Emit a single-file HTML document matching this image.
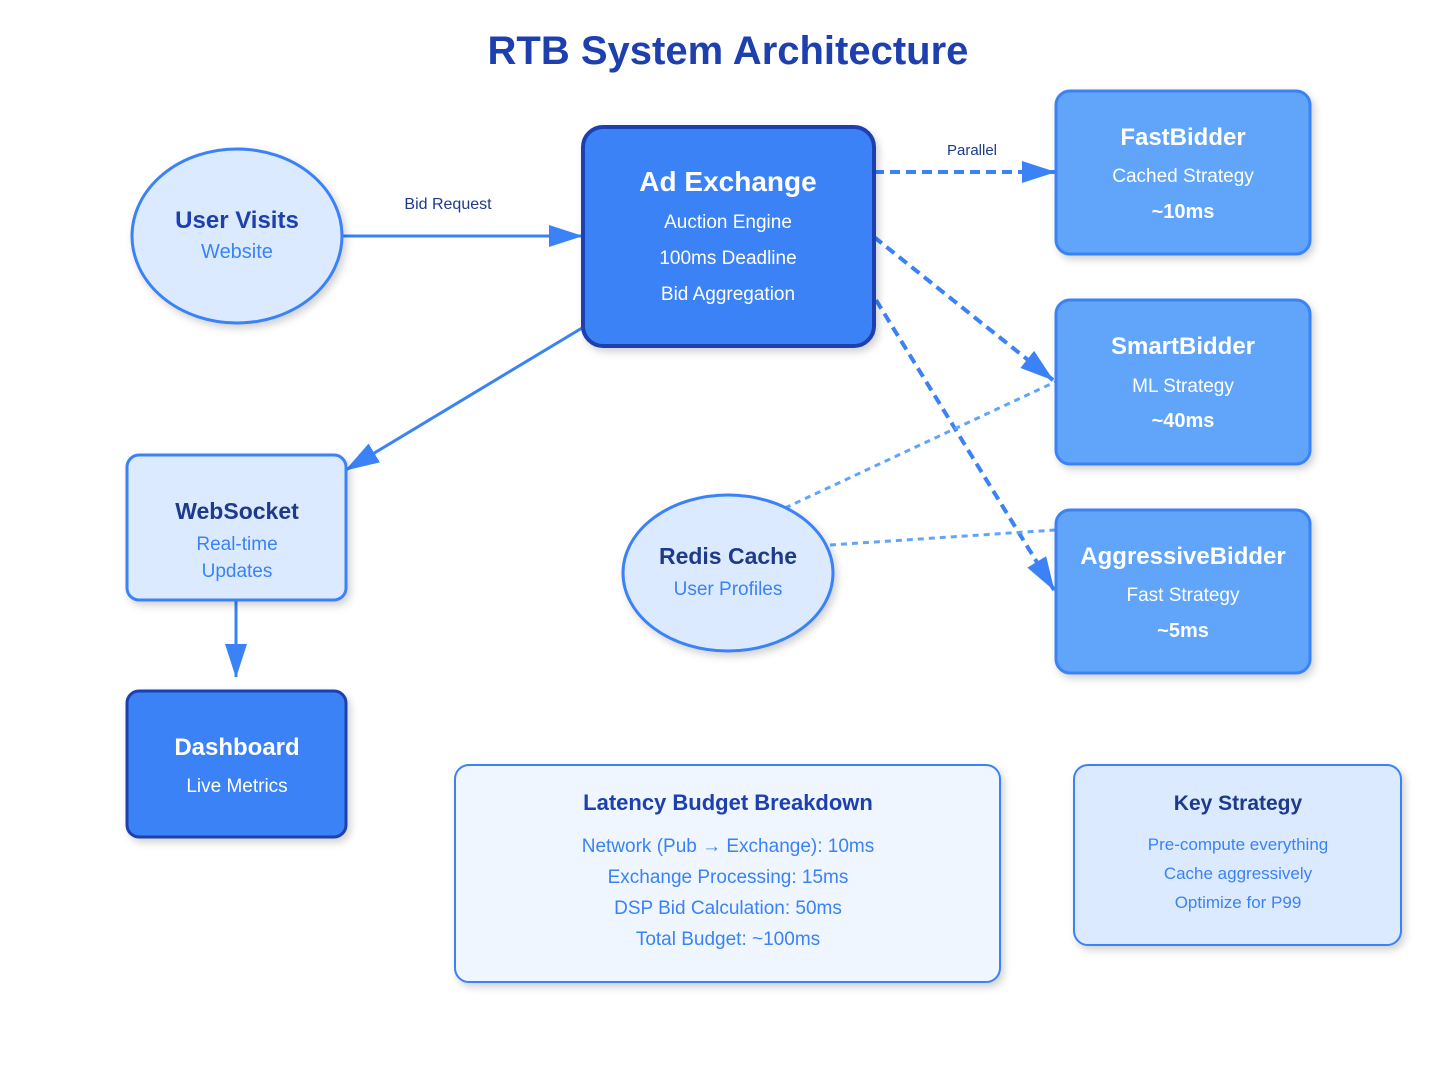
<!DOCTYPE html>
<html><head><meta charset="utf-8"><style>
html,body{margin:0;padding:0;background:#fff;}
svg{display:block;font-family:"Liberation Sans",sans-serif;}
</style></head><body>
<svg width="1456" height="1092" viewBox="0 0 1456 1092" xmlns="http://www.w3.org/2000/svg">
<defs>
<filter id="sh" x="-20%" y="-20%" width="140%" height="140%"><feDropShadow dx="3" dy="4" stdDeviation="4" flood-color="#000" flood-opacity="0.18"/></filter>
<marker id="ah" markerWidth="10" markerHeight="10" refX="9" refY="5" orient="auto" markerUnits="userSpaceOnUse" viewBox="0 0 10 10"><path d="M0,0 L10,5 L0,10 z" fill="#3b82f6"/></marker>
<marker id="big" markerWidth="34" markerHeight="22" refX="33" refY="11" orient="auto" markerUnits="userSpaceOnUse"><path d="M0,0 L34,11 L0,22 z" fill="#3b82f6"/></marker>
</defs>
<text x="728" y="64" text-anchor="middle" font-size="40" font-weight="bold" fill="#1e40af">RTB System Architecture</text>

<!-- connectors -->
<line x1="340" y1="236" x2="582" y2="236" stroke="#3b82f6" stroke-width="3" marker-end="url(#big)"/>
<text x="448" y="209" text-anchor="middle" font-size="16" fill="#1e3a8a">Bid Request</text>
<line x1="874" y1="172" x2="1055" y2="172" stroke="#3b82f6" stroke-width="4" stroke-dasharray="10,6" marker-end="url(#big)"/>
<text x="972" y="155" text-anchor="middle" font-size="15" fill="#1e3a8a">Parallel</text>
<line x1="874" y1="237" x2="1053" y2="380" stroke="#3b82f6" stroke-width="4" stroke-dasharray="10,6" marker-end="url(#big)"/>
<line x1="876" y1="300" x2="1054" y2="590" stroke="#3b82f6" stroke-width="4" stroke-dasharray="10,6" marker-end="url(#big)"/>
<line x1="582" y1="328" x2="346" y2="470" stroke="#3b82f6" stroke-width="3" marker-end="url(#big)"/>
<line x1="236" y1="600" x2="236" y2="677" stroke="#3b82f6" stroke-width="3" marker-end="url(#big)"/>
<line x1="785" y1="508" x2="1055" y2="382" stroke="#60a5fa" stroke-width="3" stroke-dasharray="6,5"/>
<line x1="830" y1="545" x2="1055" y2="530" stroke="#60a5fa" stroke-width="3" stroke-dasharray="6,5"/>

<!-- User visits -->
<ellipse cx="237" cy="236" rx="105" ry="87" fill="#dbeafe" stroke="#3b82f6" stroke-width="3" filter="url(#sh)"/>
<text x="237" y="228" text-anchor="middle" font-size="24" font-weight="bold" fill="#1e40af">User Visits</text>
<text x="237" y="258" text-anchor="middle" font-size="20" fill="#3b82f6">Website</text>

<!-- Ad Exchange -->
<rect x="583" y="127" width="291" height="219" rx="20" fill="#3b82f6" stroke="#1e40af" stroke-width="4" filter="url(#sh)"/>
<text x="728" y="191" text-anchor="middle" font-size="28" font-weight="bold" fill="#fff">Ad Exchange</text>
<text x="728" y="228" text-anchor="middle" font-size="19" fill="#fff">Auction Engine</text>
<text x="728" y="264" text-anchor="middle" font-size="19" fill="#fff">100ms Deadline</text>
<text x="728" y="300" text-anchor="middle" font-size="19" fill="#fff">Bid Aggregation</text>

<!-- bidders -->
<g filter="url(#sh)">
<rect x="1056" y="91" width="254" height="163" rx="14" fill="#60a5fa" stroke="#3b82f6" stroke-width="3"/>
<rect x="1056" y="300" width="254" height="164" rx="14" fill="#60a5fa" stroke="#3b82f6" stroke-width="3"/>
<rect x="1056" y="510" width="254" height="163" rx="14" fill="#60a5fa" stroke="#3b82f6" stroke-width="3"/>
</g>
<g text-anchor="middle" fill="#fff">
<text x="1183" y="145" font-size="24" font-weight="bold">FastBidder</text>
<text x="1183" y="182" font-size="19">Cached Strategy</text>
<text x="1183" y="218" font-size="20" font-weight="bold">~10ms</text>
<text x="1183" y="354" font-size="24" font-weight="bold">SmartBidder</text>
<text x="1183" y="392" font-size="19">ML Strategy</text>
<text x="1183" y="427" font-size="20" font-weight="bold">~40ms</text>
<text x="1183" y="564" font-size="24" font-weight="bold">AggressiveBidder</text>
<text x="1183" y="601" font-size="19">Fast Strategy</text>
<text x="1183" y="637" font-size="20" font-weight="bold">~5ms</text>
</g>

<!-- WebSocket -->
<rect x="127" y="455" width="219" height="145" rx="12" fill="#dbeafe" stroke="#3b82f6" stroke-width="3" filter="url(#sh)"/>
<text x="237" y="519" text-anchor="middle" font-size="23" font-weight="bold" fill="#1e3a8a">WebSocket</text>
<text x="237" y="550" text-anchor="middle" font-size="19" fill="#3b82f6">Real-time</text>
<text x="237" y="577" text-anchor="middle" font-size="19" fill="#3b82f6">Updates</text>

<!-- Dashboard -->
<rect x="127" y="691" width="219" height="146" rx="12" fill="#3b82f6" stroke="#1e40af" stroke-width="3" filter="url(#sh)"/>
<text x="237" y="755" text-anchor="middle" font-size="24" font-weight="bold" fill="#fff">Dashboard</text>
<text x="237" y="792" text-anchor="middle" font-size="19" fill="#fff">Live Metrics</text>

<!-- Redis -->
<ellipse cx="728" cy="573" rx="105" ry="78" fill="#dbeafe" stroke="#3b82f6" stroke-width="3" filter="url(#sh)"/>
<text x="728" y="564" text-anchor="middle" font-size="23" font-weight="bold" fill="#1e3a8a">Redis Cache</text>
<text x="728" y="595" text-anchor="middle" font-size="19" fill="#3b82f6">User Profiles</text>

<!-- Latency -->
<rect x="455" y="765" width="545" height="217" rx="14" fill="#eff6ff" stroke="#3b82f6" stroke-width="2" filter="url(#sh)"/>
<text x="728" y="810" text-anchor="middle" font-size="22" font-weight="bold" fill="#1e40af">Latency Budget Breakdown</text>
<g text-anchor="middle" font-size="19" fill="#3b82f6">
<text x="728" y="852">Network (Pub → Exchange): 10ms</text>
<text x="728" y="883">Exchange Processing: 15ms</text>
<text x="728" y="914">DSP Bid Calculation: 50ms</text>
<text x="728" y="945">Total Budget: ~100ms</text>
</g>

<!-- Key Strategy -->
<rect x="1074" y="765" width="327" height="180" rx="14" fill="#dbeafe" stroke="#3b82f6" stroke-width="2" filter="url(#sh)"/>
<text x="1238" y="810" text-anchor="middle" font-size="21" font-weight="bold" fill="#1e3a8a">Key Strategy</text>
<g text-anchor="middle" font-size="17" fill="#3b82f6">
<text x="1238" y="850">Pre-compute everything</text>
<text x="1238" y="879">Cache aggressively</text>
<text x="1238" y="908">Optimize for P99</text>
</g>
</svg>
</body></html>
